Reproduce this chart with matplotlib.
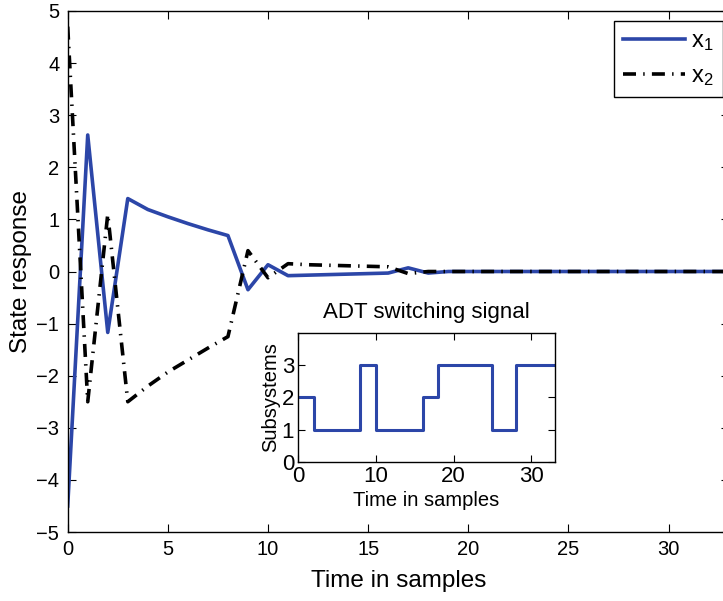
import numpy as np
import matplotlib
matplotlib.use('Agg')
import matplotlib.pyplot as plt

plt.rcParams['font.family'] = ['Liberation Sans', 'DejaVu Sans']
plt.rcParams['mathtext.fontset'] = 'custom'
plt.rcParams['mathtext.rm'] = 'Liberation Sans'
plt.rcParams['mathtext.it'] = 'Liberation Sans'

# state trajectories, one value per sample
t = np.arange(0, 34)
x1 = [-4.5, 2.62, -1.17, 1.40, 1.19, 1.05, 0.92, 0.80, 0.69, -0.35,
      0.13, -0.08, -0.07, -0.06, -0.05, -0.04, -0.03, 0.07, -0.03, 0.0,
      0.0, 0.0, 0.0, 0.0, 0.0, 0.0, 0.0, 0.0, 0.0, 0.0,
      0.0, 0.0, 0.0, 0.0]
x2 = [4.7, -2.5, 1.1, -2.5, -2.2, -1.93, -1.7, -1.47, -1.25, 0.4,
      -0.12, 0.15, 0.13, 0.12, 0.11, 0.10, 0.09, -0.04, 0.0, 0.0,
      0.0, 0.0, 0.0, 0.0, 0.0, 0.0, 0.0, 0.0, 0.0, 0.0,
      0.0, 0.0, 0.0, 0.0]

# switching signal (value holds from each switch time)
sw_times = [0, 2, 8, 10, 16, 18, 25, 28, 33]
sw_modes = [2, 1, 3, 1, 2, 3, 1, 3, 3]

blue = '#2c46a8'

fig = plt.figure(figsize=(7.23, 6.01), dpi=100)
ax = fig.add_axes([67.7 / 723, 69 / 601, 661 / 723, 521 / 601])

ax.plot(t, x1, color=blue, lw=2.6, label='x$_{\\mathregular{1}}$')
ax.plot(t, x2, color='black', lw=2.6, linestyle=(0, (3.6, 2.0, 0.4, 2.0)),
        label='x$_{\\mathregular{2}}$')

ax.set_xlim(0, 33)
ax.set_ylim(-5, 5)
ax.set_xticks(range(0, 31, 5))
ax.set_yticks(range(-5, 6))
ax.tick_params(direction='in', length=6, width=0.8, top=True, right=True,
               labelsize=14.5, pad=6)
ax.set_xlabel('Time in samples', fontsize=17.5, labelpad=8)
ax.set_ylabel('State response', fontsize=17.5, labelpad=3)
for s in ax.spines.values():
    s.set_linewidth(1.0)

leg = ax.legend(loc='upper left', bbox_to_anchor=(614 / 723, 580 / 601),
                bbox_transform=fig.transFigure, fontsize=17, fancybox=False,
                framealpha=1, edgecolor='black', handlelength=2.6,
                borderpad=0.4, labelspacing=0.5, handletextpad=0.25,
                borderaxespad=0)
leg.get_frame().set_linewidth(1.0)

# inset with the switching signal
ins = fig.add_axes([298.3 / 723, 139.3 / 601, 256.3 / 723, 128.7 / 601])
ins.step(sw_times, sw_modes, where='post', color=blue, lw=2.2)
ins.set_xlim(0, 33)
ins.set_ylim(0, 4)
ins.set_xticks([0, 10, 20, 30])
ins.set_yticks([0, 1, 2, 3])
ins.tick_params(direction='in', length=5, width=0.8, top=True, right=True,
                labelsize=16, pad=3)
ins.set_title('ADT switching signal', fontsize=16, pad=11)
ins.set_xlabel('Time in samples', fontsize=14.5, labelpad=3)
ins.set_ylabel('Subsystems', fontsize=14.5, labelpad=1)
for s in ins.spines.values():
    s.set_linewidth(1.0)

fig.savefig('out.png', dpi=100)
